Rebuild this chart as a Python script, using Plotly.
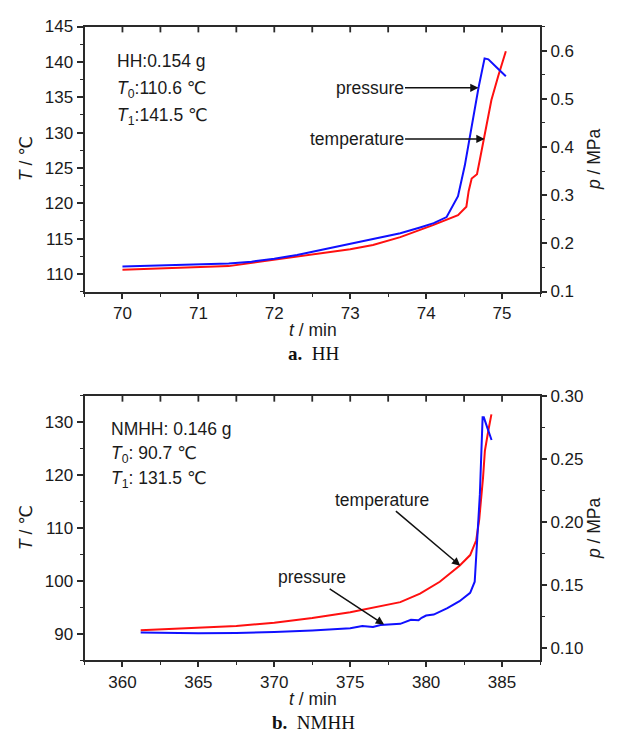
import plotly.graph_objects as go

# ---- HH run: temperature (left axis) and pressure (right axis) vs time ----
hh_t_T = [70.0, 70.5, 71.0, 71.4, 71.8, 72.2, 72.6, 73.0, 73.3, 73.66, 74.09,
          74.42, 74.53, 74.56, 74.60, 74.67, 74.71, 74.78, 74.86, 74.95, 75.05]
hh_T = [110.6, 110.8, 110.95, 111.1, 111.7, 112.3, 112.9, 113.5, 114.1, 115.2, 116.9,
        118.3, 119.5, 121.7, 123.5, 124.1, 126.3, 130.0, 134.6, 138.0, 141.5]

hh_t_p = [70.0, 70.5, 71.0, 71.4, 71.7, 72.0, 72.3, 72.6, 72.9, 73.2, 73.45, 73.66,
          73.92, 74.1, 74.27, 74.42, 74.51, 74.60, 74.69, 74.77, 74.82, 74.93, 75.05]
hh_p = [0.152, 0.154, 0.156, 0.158, 0.162, 0.168, 0.176, 0.186, 0.197, 0.207, 0.214, 0.221,
        0.233, 0.242, 0.2546, 0.298, 0.362, 0.443, 0.523, 0.584, 0.582, 0.565, 0.547]

# ---- NMHH run ----
nm_t_T = [361.2, 363.0, 365.0, 367.5, 370.0, 372.5, 375.0, 377.0, 378.3, 379.6, 380.9,
          382.2, 382.9, 383.3, 383.5, 383.75, 383.87, 384.1, 384.3]
nm_T = [90.7, 90.9, 91.1, 91.5, 92.1, 93.0, 94.1, 95.2, 96.0, 97.6, 99.85,
        102.9, 104.9, 107.7, 111.7, 119.6, 124.6, 128.5, 131.5]

nm_t_p = [361.2, 363.0, 365.0, 367.5, 370.0, 372.5, 375.0, 375.8, 376.5, 377.0, 378.3,
          379.0, 379.5, 379.7, 380.0, 380.5, 381.4, 382.2, 382.9, 383.2, 383.3, 383.4,
          383.54, 383.72, 383.8, 384.05, 384.31]
nm_p = [0.1121, 0.1117, 0.1115, 0.1118, 0.1125, 0.1138, 0.1156, 0.1172, 0.1165, 0.1180, 0.1190,
        0.1222, 0.1218, 0.1238, 0.1256, 0.1264, 0.1315, 0.1370, 0.1436, 0.1525, 0.1705, 0.1960,
        0.2220, 0.2830, 0.2830, 0.2740, 0.2650]

# Time-axis ranges
hh_range = [69.5, 75.5]
nm_range = [357.5, 387.5]

# Figure geometry (pixels)
W, H = 627, 741
PL, PR = 84.5, 540.0
TOP_A, BOT_A = 18.0, 290.0
TOP_B, BOT_B = 397.0, 668.5


def px(x):
    return x / W


def py(y):
    return 1 - y / H


SANS = "Liberation Sans, Arial, DejaVu Sans, sans-serif"
SERIF = "Liberation Serif, Times New Roman, DejaVu Serif, serif"
AX = "#2a2a2a"
TICKFONT = dict(family=SANS, size=17, color="#1a1a1a")

fig = go.Figure()

fig.add_trace(go.Scatter(x=hh_t_T, y=hh_T, mode="lines", xaxis="x", yaxis="y",
                         line=dict(color="#ff1010", width=2), showlegend=False))
fig.add_trace(go.Scatter(x=hh_t_p, y=hh_p, mode="lines", xaxis="x", yaxis="y2",
                         line=dict(color="#1010ff", width=2), showlegend=False))
fig.add_trace(go.Scatter(x=nm_t_T, y=nm_T, mode="lines", xaxis="x2", yaxis="y3",
                         line=dict(color="#ff1010", width=2), showlegend=False))
fig.add_trace(go.Scatter(x=nm_t_p, y=nm_p, mode="lines", xaxis="x2", yaxis="y4",
                         line=dict(color="#1010ff", width=2), showlegend=False))

common = dict(showgrid=False, zeroline=False, showline=True, linecolor=AX, linewidth=2,
              tickcolor=AX, tickwidth=1.6, tickfont=TICKFONT)


def minor(dt, t0, ticks="outside", length=3):
    return dict(ticks=ticks, ticklen=length, dtick=dt, tick0=t0, tickcolor=AX, tickwidth=1.4)


dom_x = [px(PL), px(PR)]
dom_a = [py(BOT_A), py(TOP_A)]
dom_b = [py(BOT_B), py(TOP_B)]

fig.update_layout(
    width=W, height=H,
    margin=dict(l=0, r=0, t=0, b=0),
    paper_bgcolor="white", plot_bgcolor="white",
    showlegend=False,
    xaxis=dict(domain=dom_x, anchor="y", range=hh_range, tick0=70, dtick=1, mirror=True,
               ticks="outside", ticklen=5, minor=minor(0.5, 70), **common),
    yaxis=dict(domain=dom_a, anchor="x", range=[107.5, 145], tick0=110, dtick=5,
               ticks="outside", ticklen=6, minor=minor(2.5, 107.5), **common),
    yaxis2=dict(overlaying="y", side="right", anchor="x", range=[0.0999, 0.6501],
                tick0=0.1, dtick=0.1, tickformat=".1f", ticks="outside", ticklen=5,
                minor=minor(0.05, 0.1), **common),
    xaxis2=dict(domain=dom_x, anchor="y3", range=nm_range, tick0=360, dtick=5, mirror=True,
                ticks="outside", ticklen=5, minor=minor(2.5, 360), **common),
    yaxis3=dict(domain=dom_b, anchor="x2", range=[85, 135], tick0=90, dtick=10,
                ticks="outside", ticklen=6, minor=minor(5, 85), **common),
    yaxis4=dict(overlaying="y3", side="right", anchor="x2", range=[0.09, 0.3001],
                tick0=0.1, dtick=0.05, tickformat=".2f", ticks="outside", ticklen=5,
                minor=minor(0.025, 0.1), **common),
)


# unlabeled inward ticks along the upper frame edge of each panel (paper coordinates)
def top_ticks(rng, step, top_px):
    n = int(round((rng[1] - rng[0]) / step))
    for i in range(1, n):
        xp = PL + (PR - PL) * i / n
        fig.add_shape(type="line", xref="paper", yref="paper",
                      x0=px(xp), x1=px(xp), y0=py(top_px), y1=py(top_px + 6),
                      line=dict(color=AX, width=1.8), layer="above")


top_ticks(hh_range, 0.5, TOP_A)
top_ticks(nm_range, 2.5, TOP_B)

LBL = dict(family=SANS, size=17.5, color="#1a1a1a")


def text(x, y, s, xanchor="center", angle=0, font=LBL):
    fig.add_annotation(x=px(x), y=py(y), xref="paper", yref="paper", text=s,
                       showarrow=False, xanchor=xanchor, yanchor="middle",
                       textangle=angle, font=font)


# sample notes
text(115, 53, "HH:0.154 g", xanchor="left")
text(115, 83, "<i>T</i><sub>0</sub>:110.6 ℃", xanchor="left")
text(115, 110, "<i>T</i><sub>1</sub>:141.5 ℃", xanchor="left")
text(109, 431, "NMHH: 0.146 g", xanchor="left")
text(109, 457, "<i>T</i><sub>0</sub>: 90.7 ℃", xanchor="left")
text(109, 483, "<i>T</i><sub>1</sub>: 131.5 ℃", xanchor="left")

# axis titles
for yc in [(TOP_A + BOT_A) / 2, (TOP_B + BOT_B) / 2]:
    text(26, yc, "<i>T</i> / ℃", angle=-90)
    text(594, yc, "<i>p</i> / MPa", angle=-90)
text(313, 329, "<i>t</i> / min")
text(313, 708, "<i>t</i> / min")

CAP = dict(family=SERIF, size=19, color="#111111")
text(313, 354, "<b>a.</b>  HH", font=CAP)
text(313, 732, "<b>b.</b>  NMHH", font=CAP)

# curve labels with arrows
ARW = dict(showarrow=True, arrowhead=2, arrowsize=1.1, arrowwidth=1.5,
           arrowcolor="#111111", standoff=0, font=LBL)
fig.add_annotation(x=74.69, y=0.523, xref="x", yref="y2", text="pressure",
                   ax=-109, ay=0, **ARW)
fig.add_annotation(x=74.77, y=129.1, xref="x", yref="y", text="temperature",
                   ax=-128, ay=0, **ARW)
fig.add_annotation(x=382.25, y=102.9, xref="x2", yref="y3", text="temperature",
                   ax=-78, ay=-66, **ARW)
fig.add_annotation(x=377.23, y=0.1185, xref="x2", yref="y4", text="pressure",
                   ax=-72, ay=-47, **ARW)

fig.write_html("out.html")
